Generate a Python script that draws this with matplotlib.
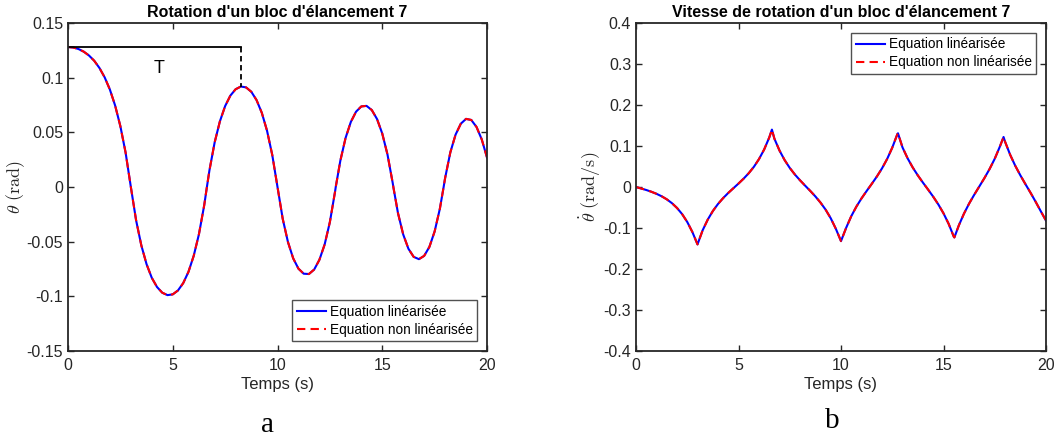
import numpy as np
import matplotlib
matplotlib.use("Agg")
import matplotlib.pyplot as plt

plt.rcParams['font.family'] = ['Liberation Sans', 'DejaVu Sans']
plt.rcParams['mathtext.fontset'] = 'cm'

# valeurs (temps en s)
temps = [0, 0.25, 0.5, 0.75, 1.0, 1.25, 1.5, 1.75, 2.0, 2.25, 2.5, 2.75, 3.0,
         3.25, 3.5, 3.75, 4.0, 4.25, 4.5, 4.75, 5.0, 5.25, 5.5, 5.75, 6.0, 6.25, 6.5, 6.63,
         6.75, 7.0, 7.25, 7.5, 7.75, 8.0, 8.25, 8.5, 8.75, 9.0, 9.25, 9.5, 9.75, 10.0,
         10.25, 10.5, 10.75, 11.0, 11.25, 11.5, 11.75, 12.0, 12.25, 12.5, 12.75, 12.78,
         13.0, 13.25, 13.5, 13.75, 14.0, 14.25, 14.5, 14.75, 15.0, 15.25, 15.5, 15.53,
         15.75, 16.0, 16.25, 16.5, 16.75, 17.0, 17.25, 17.5, 17.75, 17.93,
         18.0, 18.25, 18.5, 18.75, 19.0, 19.25, 19.5, 19.75, 20.0]

# rotation theta (rad)
theta = [0.1280, 0.1276, 0.1262, 0.1238, 0.1203, 0.1155, 0.1089, 0.1003, 0.0891, 0.0745, 0.0556, 0.0314, 0.0,
         -0.0304, -0.0534, -0.0706, -0.0831, -0.0915, -0.0967, -0.0989, -0.0982, -0.0946, -0.0879, -0.0776,
         -0.0630, -0.0432, -0.0169, 0.0,
         0.0151, 0.0408, 0.0600, 0.0740, 0.0836, 0.0894, 0.0919, 0.0911, 0.0871, 0.0795, 0.0679, 0.0515, 0.0293, 0.0,
         -0.0292, -0.0504, -0.0653, -0.0747, -0.0793, -0.0796, -0.0755, -0.0666, -0.0526, -0.0321, -0.0039, 0.0,
         0.0241, 0.0449, 0.0595, 0.0689, 0.0737, 0.0742, 0.0704, 0.0622, 0.0489, 0.0297, 0.0036, 0.0,
         -0.0238, -0.0434, -0.0565, -0.0639, -0.0660, -0.0630, -0.0548, -0.0407, -0.0199, 0.0,
         0.0081, 0.0317, 0.0479, 0.0579, 0.0623, 0.0613, 0.0549, 0.0435, 0.0270]

# vitesse de rotation (rad/s)
vitesse = [0.0, -0.0036, -0.0073, -0.0116, -0.0166, -0.0226, -0.0300, -0.0393, -0.0511, -0.0661, -0.0853, -0.1098, -0.1400,
           -0.1057, -0.0795, -0.0585, -0.0414, -0.0271, -0.0145, -0.0030, 0.0084, 0.0204, 0.0337, 0.0492,
           0.0681, 0.0913, 0.1207, 0.1400,
           0.1180, 0.0889, 0.0657, 0.0466, 0.0305, 0.0164, 0.0033, -0.0095, -0.0230, -0.0380, -0.0553, -0.0763, -0.1021, -0.1320,
           -0.0997, -0.0713, -0.0479, -0.0278, -0.0098, 0.0076, 0.0256, 0.0454, 0.0683, 0.0959, 0.1290, 0.1310,
           0.0966, 0.0699, 0.0475, 0.0281, 0.0105, -0.0064, -0.0238, -0.0427, -0.0642, -0.0897, -0.1209, -0.1230,
           -0.0934, -0.0648, -0.0404, -0.0188, 0.0016, 0.0221, 0.0441, 0.0690, 0.0986, 0.1220,
           0.1109, 0.0788, 0.0518, 0.0284, 0.0067, -0.0144, -0.0365, -0.0595, -0.0820]

leg_labels = ["Equation linéarisée", "Equation non linéarisée"]
x_ticks = [0, 5, 10, 15, 20]
y_ticks_a = [-0.15, -0.1, -0.05, 0, 0.05, 0.1, 0.15]
y_ticks_b = [-0.4, -0.3, -0.2, -0.1, 0, 0.1, 0.2, 0.3, 0.4]

t = np.array(temps)
th = np.array(theta)
om = np.array(vitesse)

grey = '#262626'
fig = plt.figure(figsize=(10.62, 4.41), dpi=100)
ax1 = fig.add_axes([68 / 1062, 1 - 351 / 441, 419 / 1062, 328 / 441])
ax2 = fig.add_axes([636 / 1062, 1 - 351 / 441, 410 / 1062, 328 / 441])


def style(ax, yt):
    ax.set_xlim(0, 20)
    ax.set_xticks(x_ticks)
    ax.set_yticks(yt)
    ax.set_yticklabels([('%g' % v) for v in yt])
    ax.tick_params(direction='in', length=4.5, width=1.0, top=True, right=True,
                   labelsize=11.5, colors=grey)
    ax.tick_params(axis='x', pad=5)
    ax.tick_params(axis='y', pad=3.5)
    for s in ax.spines.values():
        s.set_linewidth(1.3)
        s.set_color(grey)
    ax.set_xlabel("Temps (s)", fontsize=12, color=grey, labelpad=3)


def legende(ax, loc):
    leg = ax.legend(loc=loc, fontsize=9.8, frameon=True, fancybox=False,
                    borderaxespad=0.7, handlelength=2.1, handletextpad=0.3,
                    labelspacing=0.3, borderpad=0.35)
    leg.get_frame().set_edgecolor(grey)
    leg.get_frame().set_linewidth(1.0)


# (a) rotation
ax1.plot(t, th, color='blue', lw=1.5, label=leg_labels[0])
ax1.plot(t, th, color='red', lw=1.5, ls=(0, (4, 2.5)), label=leg_labels[1])
ax1.set_ylim(-0.15, 0.15)
style(ax1, y_ticks_a)
ax1.set_ylabel(r'$\theta\ \mathrm{(rad)}$', fontsize=13, color=grey, labelpad=0)
ax1.set_title("Rotation d'un bloc d'élancement 7", fontsize=11.5, fontweight='bold', pad=4)

# periode T : du depart jusqu'au premier maximum suivant
mask = (t > 6) & (t < 10)
t_max = t[mask][np.argmax(th[mask])]
ax1.plot([0, t_max], [th[0], th[0]], color='black', lw=1.3)
ax1.plot([t_max, t_max], [th[0], th[mask].max()], color='black', lw=1.3, ls=(0, (3, 2)))
ax1.text(t_max / 2 + 0.2, 0.108, "T", fontsize=13, ha='center', va='center')
legende(ax1, 'lower right')

# (b) vitesse
ax2.plot(t, om, color='blue', lw=1.5, label=leg_labels[0])
ax2.plot(t, om, color='red', lw=1.5, ls=(0, (4, 2.5)), label=leg_labels[1])
ax2.set_ylim(-0.4, 0.4)
style(ax2, y_ticks_b)
ax2.set_ylabel(r'$\dot{\theta}\ \mathrm{(rad/s)}$', fontsize=13, color=grey, labelpad=0)
ax2.set_title("Vitesse de rotation d'un bloc d'élancement 7", fontsize=11.5, fontweight='bold', pad=4)
legende(ax2, 'upper right')

fig.text(267 / 1062, 1 - 425 / 441, "a", fontsize=21, family='Liberation Serif', ha='center', va='center')
fig.text(832 / 1062, 1 - 421 / 441, "b", fontsize=21, family='Liberation Serif', ha='center', va='center')

fig.savefig("out.png", dpi=100)
